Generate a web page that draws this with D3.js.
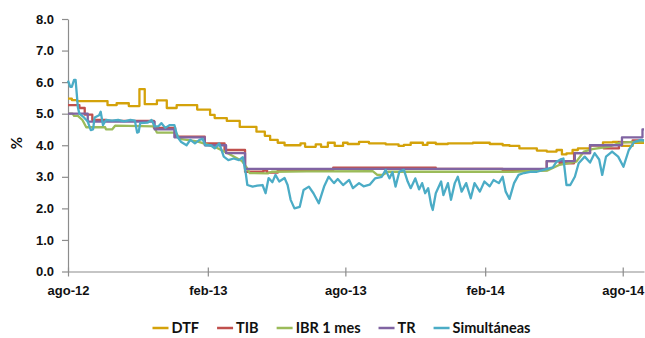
<!DOCTYPE html>
<html>
<head>
<meta charset="utf-8">
<script src="https://cdn.jsdelivr.net/npm/d3@7"></script>
<style>
  body { margin: 0; background: #fff; }
  svg { display: block; font-family: Lato, "Open Sans", sans-serif; font-weight: 700; }
</style>
</head>
<body>
<svg id="chart" width="645" height="338"></svg>
<script>
// Tasas de interés (%), agosto 2012 - agosto 2014
const seriesNames = ["DTF", "TIB", "IBR 1 mes", "TR", "Simultáneas"];
const seriesColors = ["#d4a20a", "#c0504d", "#9bbb59", "#8064a2", "#4bacc6"];

const dtf = [
  ["2012-08-01",5.48],["2012-08-06",5.43],["2012-08-13",5.40],["2012-09-22",5.27],["2012-10-04",5.33],
  ["2012-10-20",5.24],["2012-11-03",5.78],["2012-11-10",5.30],["2012-11-26",5.42],["2012-12-09",5.18],
  ["2012-12-22",5.27],["2013-01-18",5.13],["2013-02-04",4.96],["2013-02-10",4.86],["2013-02-26",4.77],
  ["2013-03-15",4.58],["2013-04-06",4.43],["2013-04-17",4.30],["2013-04-24",4.17],["2013-05-04",4.08],
  ["2013-05-13",4.00],["2013-06-03",4.06],["2013-06-09",3.95],["2013-06-23",4.03],["2013-06-30",3.95],
  ["2013-07-09",4.08],["2013-07-18",3.98],["2013-07-29",4.08],["2013-08-04",4.04],["2013-08-19",4.11],
  ["2013-09-01",4.06],["2013-09-23",4.03],["2013-10-10",3.98],["2013-10-17",4.01],["2013-10-26",4.08],
  ["2013-11-11",4.01],["2013-11-17",4.08],["2013-11-28",4.04],["2013-12-14",4.06],["2014-01-16",4.08],
  ["2014-02-07",4.04],["2014-02-24",4.00],["2014-03-05",3.98],["2014-03-18",3.90],["2014-04-10",3.83],
  ["2014-04-23",3.80],["2014-05-06",3.85],["2014-05-13",3.71],["2014-05-19",3.74],["2014-05-27",3.85],
  ["2014-06-03",3.90],["2014-06-19",4.00],["2014-07-06",4.09],["2014-07-19",4.11],["2014-07-31",3.98],
  ["2014-08-14",4.08],["2014-08-29",4.08]
];

const tib = [
  ["2012-08-01",5.27],["2012-08-16",5.18],["2012-08-23",4.97],["2012-09-02",4.80],["2012-09-20",4.77],
  ["2012-11-22",4.55],["2012-12-20",4.27],["2013-01-28",4.06],["2013-02-23",3.85],["2013-03-22",3.16],
  ["2013-04-15",3.20],["2013-04-20",3.13],["2013-05-04",3.21],["2013-07-16",3.29],["2013-11-28",3.25],
  ["2014-02-24",3.21],["2014-04-23",3.50],["2014-05-10",3.43],["2014-05-29",3.75],["2014-06-19",4.00],
  ["2014-07-07",3.90],["2014-07-27",4.10],["2014-08-14",4.15],["2014-08-29",4.15]
];

const ibr = [
  ["2012-08-01",5.00],["2012-08-07",5.00],["2012-08-09",4.93],["2012-08-14",4.93],["2012-08-20",4.80],
  ["2012-08-25",4.57],["2012-09-19",4.57],["2012-09-20",4.50],["2012-09-28",4.50],["2012-10-02",4.62],
  ["2012-11-22",4.60],["2012-11-26",4.40],["2012-12-21",4.40],["2012-12-26",4.20],["2013-01-18",4.12],
  ["2013-02-10",3.95],["2013-03-01",3.72],["2013-03-18",3.50],["2013-03-24",3.30],["2013-03-28",3.12],
  ["2013-04-21",3.11],["2013-04-26",3.16],["2013-06-11",3.17],["2013-09-06",3.18],["2013-09-12",3.06],
  ["2013-09-19",3.06],["2013-09-26",3.16],["2014-03-09",3.16],["2014-04-24",3.20],["2014-05-10",3.38],
  ["2014-06-01",3.48],["2014-06-11",3.80],["2014-06-22",3.88],["2014-07-15",3.96],["2014-07-28",4.08],
  ["2014-08-29",4.12]
];

const tr = [
  ["2012-08-01",5.00],["2012-08-27",4.75],["2012-11-23",4.50],["2012-12-19",4.25],["2013-01-28",4.00],
  ["2013-02-25",3.75],["2013-03-22",3.25],["2014-04-23",3.50],["2014-05-30",3.75],["2014-06-19",4.00],
  ["2014-07-31",4.25],["2014-08-27",4.50],["2014-08-29",4.50]
];

const simultaneas = [
  ["2012-08-01",6.05],["2012-08-04",5.85],["2012-08-06",5.85],["2012-08-09",6.07],["2012-08-11",6.07],
  ["2012-08-14",5.20],["2012-08-16",5.00],["2012-08-22",4.88],["2012-08-27",4.75],["2012-08-31",4.48],
  ["2012-09-03",4.50],["2012-09-05",4.88],["2012-09-11",4.95],["2012-09-13",5.06],["2012-09-16",4.64],
  ["2012-09-20",4.80],["2012-09-28",4.78],["2012-10-06",4.80],["2012-10-14",4.76],["2012-10-22",4.80],
  ["2012-10-28",4.78],["2012-10-31",4.40],["2012-11-02",4.42],["2012-11-04",4.70],["2012-11-14",4.72],
  ["2012-11-19",4.80],["2012-11-23",4.60],["2012-11-28",4.60],["2012-12-02",4.70],["2012-12-07",4.55],
  ["2012-12-13",4.64],["2012-12-19",4.64],["2012-12-23",4.27],["2012-12-28",4.10],["2013-01-04",4.00],
  ["2013-01-09",4.17],["2013-01-15",4.06],["2013-01-21",4.17],["2013-01-25",4.20],["2013-01-29",4.00],
  ["2013-02-05",4.00],["2013-02-10",3.90],["2013-02-16",4.06],["2013-02-22",3.64],["2013-02-28",3.53],
  ["2013-03-07",3.58],["2013-03-14",3.53],["2013-03-19",3.62],["2013-03-23",3.10],["2013-03-25",2.74],
  ["2013-04-01",2.69],["2013-04-07",2.72],["2013-04-14",2.74],["2013-04-18",2.48],["2013-04-22",2.96],
  ["2013-04-27",2.83],["2013-05-01",3.06],["2013-05-06",2.85],["2013-05-13",2.96],["2013-05-17",2.74],
  ["2013-05-21",2.27],["2013-05-26",2.00],["2013-06-02",2.05],["2013-06-07",2.58],["2013-06-14",2.69],
  ["2013-06-20",2.48],["2013-06-27",2.16],["2013-07-04",2.69],["2013-07-10",3.00],["2013-07-17",2.80],
  ["2013-07-22",2.93],["2013-07-29",2.74],["2013-08-06",2.90],["2013-08-11",2.64],["2013-08-19",2.80],
  ["2013-08-25",2.70],["2013-09-02",2.75],["2013-09-09",2.95],["2013-09-18",3.00],["2013-09-23",3.22],
  ["2013-09-28",2.95],["2013-10-02",3.15],["2013-10-06",2.69],["2013-10-11",3.16],["2013-10-17",3.22],
  ["2013-10-22",2.85],["2013-10-26",2.64],["2013-11-01",2.95],["2013-11-06",2.60],["2013-11-10",2.80],
  ["2013-11-14",2.48],["2013-11-18",2.64],["2013-11-22",2.10],["2013-11-24",1.95],["2013-11-28",2.48],
  ["2013-12-05",2.85],["2013-12-08",2.42],["2013-12-14",2.80],["2013-12-18",2.27],["2013-12-23",2.80],
  ["2013-12-27",3.00],["2014-01-01",2.53],["2014-01-07",2.80],["2014-01-13",2.32],["2014-01-18",2.80],
  ["2014-01-25",2.53],["2014-01-31",2.85],["2014-02-07",2.70],["2014-02-12",2.90],["2014-02-19",2.80],
  ["2014-02-24",3.00],["2014-02-28",2.53],["2014-03-05",2.30],["2014-03-11",2.80],["2014-03-17",3.06],
  ["2014-03-24",3.12],["2014-04-01",3.16],["2014-04-10",3.16],["2014-04-19",3.22],["2014-04-26",3.27],
  ["2014-05-01",3.30],["2014-05-06",3.48],["2014-05-11",3.55],["2014-05-15",3.58],["2014-05-19",2.74],
  ["2014-05-24",2.74],["2014-05-30",3.00],["2014-06-04",3.43],["2014-06-12",3.64],["2014-06-19",3.45],
  ["2014-06-25",3.75],["2014-07-01",3.55],["2014-07-05",3.06],["2014-07-10",3.64],["2014-07-18",3.80],
  ["2014-07-26",3.64],["2014-08-02",3.32],["2014-08-09",3.85],["2014-08-16",4.10],["2014-08-25",4.17],
  ["2014-08-29",4.15]
];

const seriesData = [dtf, tib, ibr, tr, simultaneas];
const seriesCurves = [d3.curveStepAfter, d3.curveStepAfter, d3.curveLinear, d3.curveStepAfter, d3.curveLinear];

const xTickDates = ["2012-08-01", "2013-02-01", "2013-08-01", "2014-02-01", "2014-08-01"];
const xTickLabels = ["ago-12", "feb-13", "ago-13", "feb-14", "ago-14"];
const yTicks = [0, 1, 2, 3, 4, 5, 6, 7, 8];

const parse = d3.timeParse("%Y-%m-%d");
const svg = d3.select("#chart");
const axisColor = "#8c8c8c";

const x = d3.scaleTime()
  .domain([parse("2012-08-01"), parse("2014-08-29")])
  .range([68, 644]);
const y = d3.scaleLinear().domain([0, 8]).range([271.5, 19]);

// y axis
const gy = svg.append("g").attr("transform", "translate(68,0)")
  .call(d3.axisLeft(y).tickValues(yTicks).tickFormat(d3.format(".1f"))
    .tickSize(6).tickSizeOuter(0).tickPadding(8));
gy.select(".domain").attr("stroke", axisColor).attr("stroke-width", 1.2);
gy.selectAll(".tick line").attr("stroke", axisColor).attr("stroke-width", 1.2);
gy.selectAll(".tick text").attr("fill", "#111").style("font-size", "13px").style("font-weight", 700);

// x axis
const gx = svg.append("g").attr("transform", "translate(0,271.5)")
  .call(d3.axisBottom(x).tickValues(xTickDates.map(parse))
    .tickFormat((d, i) => xTickLabels[i])
    .tickSize(5).tickSizeOuter(0).tickPadding(9));
gx.select(".domain").attr("stroke", axisColor).attr("stroke-width", 1.2);
gx.selectAll(".tick line").attr("stroke", axisColor).attr("stroke-width", 1.2).attr("y1", -4);
gx.selectAll(".tick text").attr("fill", "#111").style("font-size", "13px").style("font-weight", 700);

// y axis title
svg.append("text")
  .attr("transform", "translate(22,143) rotate(-90)")
  .attr("text-anchor", "middle")
  .style("font-size", "15px")
  .attr("fill", "#111")
  .text("%");

// series lines
seriesData.forEach((data, i) => {
  const line = d3.line()
    .x(d => x(parse(d[0])))
    .y(d => y(d[1]))
    .curve(seriesCurves[i]);
  svg.append("path")
    .datum(data)
    .attr("fill", "none")
    .attr("stroke", seriesColors[i])
    .attr("stroke-width", 2.3)
    .attr("stroke-linejoin", "round")
    .attr("d", line);
});

// legend
const legend = svg.append("g");
const items = legend.selectAll("g").data(seriesNames).join("g");
items.append("line")
  .attr("x1", 0).attr("x2", 16).attr("y1", 0).attr("y2", 0)
  .attr("stroke", (d, i) => seriesColors[i]).attr("stroke-width", 2.5);
items.append("text")
  .attr("x", 19).attr("dy", "0.36em")
  .style("font-size", "14.5px").attr("fill", "#111")
  .text(d => d);
let cursor = 0;
const gap = 18;
items.each(function () {
  const w = 19 + this.querySelector("text").getComputedTextLength();
  d3.select(this).attr("transform", `translate(${cursor},0)`);
  cursor += w + gap;
});
const legendWidth = cursor - gap;
legend.attr("transform", `translate(${341.5 - legendWidth / 2},328)`);
</script>
</body>
</html>
